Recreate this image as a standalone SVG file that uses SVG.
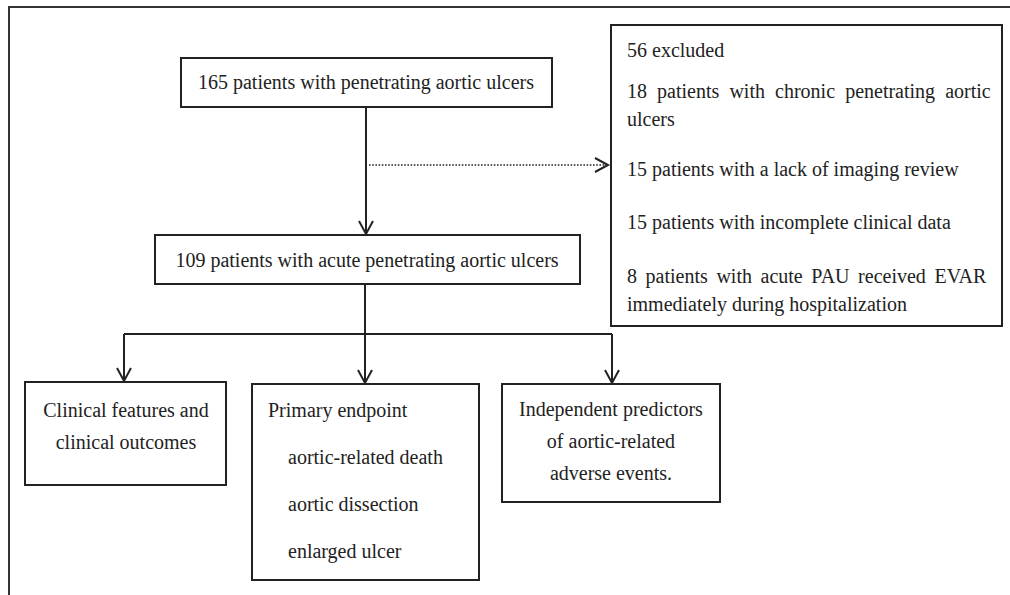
<svg xmlns="http://www.w3.org/2000/svg" width="1010" height="595" viewBox="0 0 1010 595">
<style>
.box{fill:#fff;stroke:#222;stroke-width:2}
.t{font-family:"Liberation Serif","Times New Roman",serif;font-size:20px;fill:#222}
.c{text-anchor:middle}
.ln{fill:none;stroke:#222;stroke-width:2}
.dot{fill:none;stroke:#222;stroke-width:1.6;stroke-dasharray:1.6 1.6}
</style>
<defs>
<marker id="arr" markerUnits="userSpaceOnUse" orient="auto" refX="0" refY="0" markerWidth="20" markerHeight="20" overflow="visible">
<path d="M-13,-7 L0,0 L-13,7" fill="none" stroke="#222" stroke-width="2"/>
</marker>
</defs>
<rect width="1010" height="595" fill="#fff"/>
<path d="M9,595 V7 H1010" fill="none" stroke="#333" stroke-width="2"/>
<g id="connectors">
<path class="ln" d="M366,107 V234" marker-end="url(#arr)"/>
<path class="dot" d="M369,165 H608" marker-end="url(#arr)"/>
<path class="ln" d="M365,284 V334"/>
<path class="ln" d="M124,334 H612"/>
<path class="ln" d="M124,334 V381" marker-end="url(#arr)"/>
<path class="ln" d="M365,334 V383" marker-end="url(#arr)"/>
<path class="ln" d="M612,334 V383" marker-end="url(#arr)"/>
</g>
<g id="n1">
<rect class="box" x="181" y="58" width="371" height="49"/>
<text class="t c" x="366" y="89">165 patients with penetrating aortic ulcers</text>
</g>
<g id="excluded">
<rect class="box" x="611" y="25" width="391" height="301"/>
<text class="t" x="627" y="57">56 excluded</text>
<text class="t" x="627" y="98" word-spacing="5.1">18 patients with chronic penetrating aortic</text>
<text class="t" x="627" y="126">ulcers</text>
<text class="t" x="627" y="176">15 patients with a lack of imaging review</text>
<text class="t" x="627" y="229">15 patients with incomplete clinical data</text>
<text class="t" x="627" y="283" word-spacing="3.6">8 patients with acute PAU received EVAR</text>
<text class="t" x="627" y="311">immediately during hospitalization</text>
</g>
<g id="n2">
<rect class="box" x="155" y="235" width="425" height="49"/>
<text class="t c" x="367" y="267">109 patients with acute penetrating aortic ulcers</text>
</g>
<g id="clinical">
<rect class="box" x="25" y="382" width="201" height="103"/>
<text class="t c" x="126" y="417">Clinical features and</text>
<text class="t c" x="126" y="449">clinical outcomes</text>
</g>
<g id="primary">
<rect class="box" x="252" y="384" width="227" height="196"/>
<text class="t" x="268" y="417">Primary endpoint</text>
<text class="t" x="288" y="464">aortic-related death</text>
<text class="t" x="288" y="511">aortic dissection</text>
<text class="t" x="288" y="558">enlarged ulcer</text>
</g>
<g id="predictors">
<rect class="box" x="502" y="384" width="218" height="118"/>
<text class="t c" x="611" y="416">Independent predictors</text>
<text class="t c" x="611" y="448">of aortic-related</text>
<text class="t c" x="611" y="480">adverse events.</text>
</g>
</svg>
